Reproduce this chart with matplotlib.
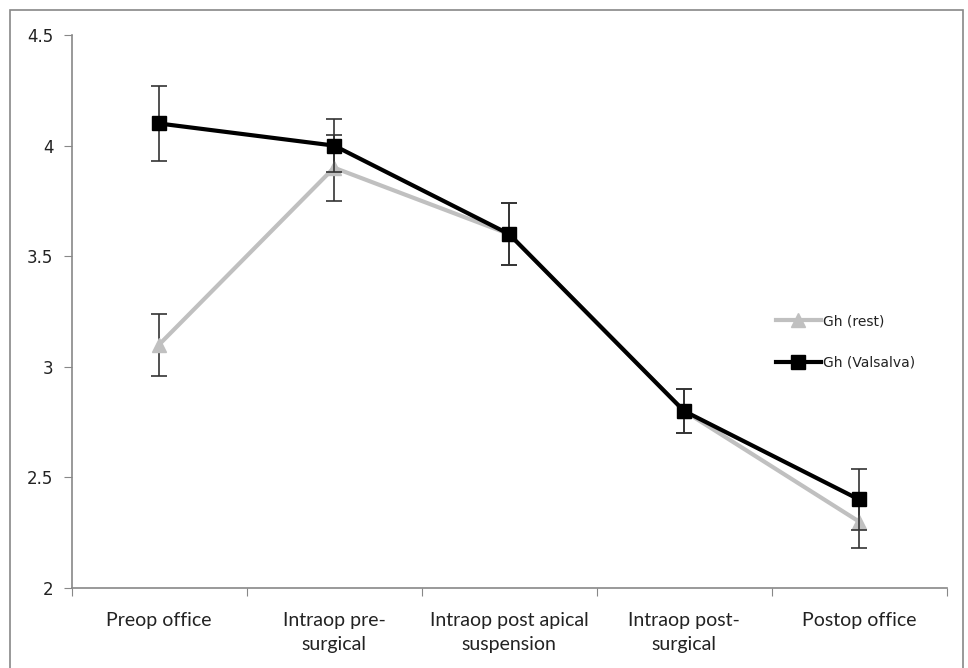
import matplotlib
matplotlib.use("Agg")
import matplotlib.pyplot as plt
from matplotlib.patches import Rectangle

categories = ["Preop office", "Intraop pre-\nsurgical", "Intraop post apical\nsuspension",
              "Intraop post-\nsurgical", "Postop office"]
rest = [3.1, 3.9, 3.6, 2.8, 2.3]
rest_err = [0.14, 0.15, 0.14, 0.10, 0.12]
valsalva = [4.1, 4.0, 3.6, 2.8, 2.4]
valsalva_err = [0.17, 0.12, 0.14, 0.10, 0.14]
yticks = [2, 2.5, 3, 3.5, 4, 4.5]
ytick_labels = ["2", "2.5", "3", "3.5", "4", "4.5"]

fig = plt.figure(figsize=(9.68, 6.68), dpi=100)
ax = fig.add_axes([0.0739, 0.1198, 0.904, 0.8278])

x = list(range(len(categories)))
ax.errorbar(x, rest, yerr=rest_err, color="#c0c0c0", lw=3, marker="^", markersize=10,
            ecolor="#333333", elinewidth=1.2, capsize=5.5, capthick=1.2, label="Gh (rest)", zorder=2)
ax.errorbar(x, valsalva, yerr=valsalva_err, color="black", lw=3, marker="s", markersize=10,
            ecolor="#333333", elinewidth=1.2, capsize=5.5, capthick=1.2, label="Gh (Valsalva)", zorder=3)

ax.set_xlim(-0.5, len(categories) - 0.5)
ax.set_ylim(2, 4.5)
ax.set_yticks(yticks)
ax.set_yticklabels(ytick_labels, fontsize=12, family="DejaVu Sans", color="#222222")
ax.set_xticks([i - 0.5 for i in range(len(categories) + 1)])
ax.set_xticklabels([""] * (len(categories) + 1))
ax.set_xticks(x, minor=True)
ax.set_xticklabels(categories, minor=True, fontsize=14, family="Lato", linespacing=1.5,
                   color="#222222")
ax.tick_params(axis="x", which="minor", length=0, pad=17)
ax.tick_params(axis="x", which="major", length=6, color="#888888", direction="out")
ax.tick_params(axis="y", length=6, color="#888888", direction="out", pad=7)
for s in ["top", "right"]:
    ax.spines[s].set_visible(False)
for s in ["left", "bottom"]:
    ax.spines[s].set_color("#888888")
    ax.spines[s].set_linewidth(1.2)

handles, labels = ax.get_legend_handles_labels()
handles = [h[0] for h in handles]
ax.legend(handles, labels, loc="center left", bbox_to_anchor=(0.791, 0.445), frameon=False,
          handlelength=3.2, handletextpad=0.15, labelspacing=2.0,
          prop={"family": "DejaVu Sans", "size": 10}, labelcolor="#222222")

fig.patches.append(Rectangle((10 / 968, -0.01), 953 / 968, 1 - 10 / 668 + 0.01,
                             transform=fig.transFigure, fill=False, edgecolor="#888888", lw=1.2))

fig.savefig("out.png", dpi=100)
